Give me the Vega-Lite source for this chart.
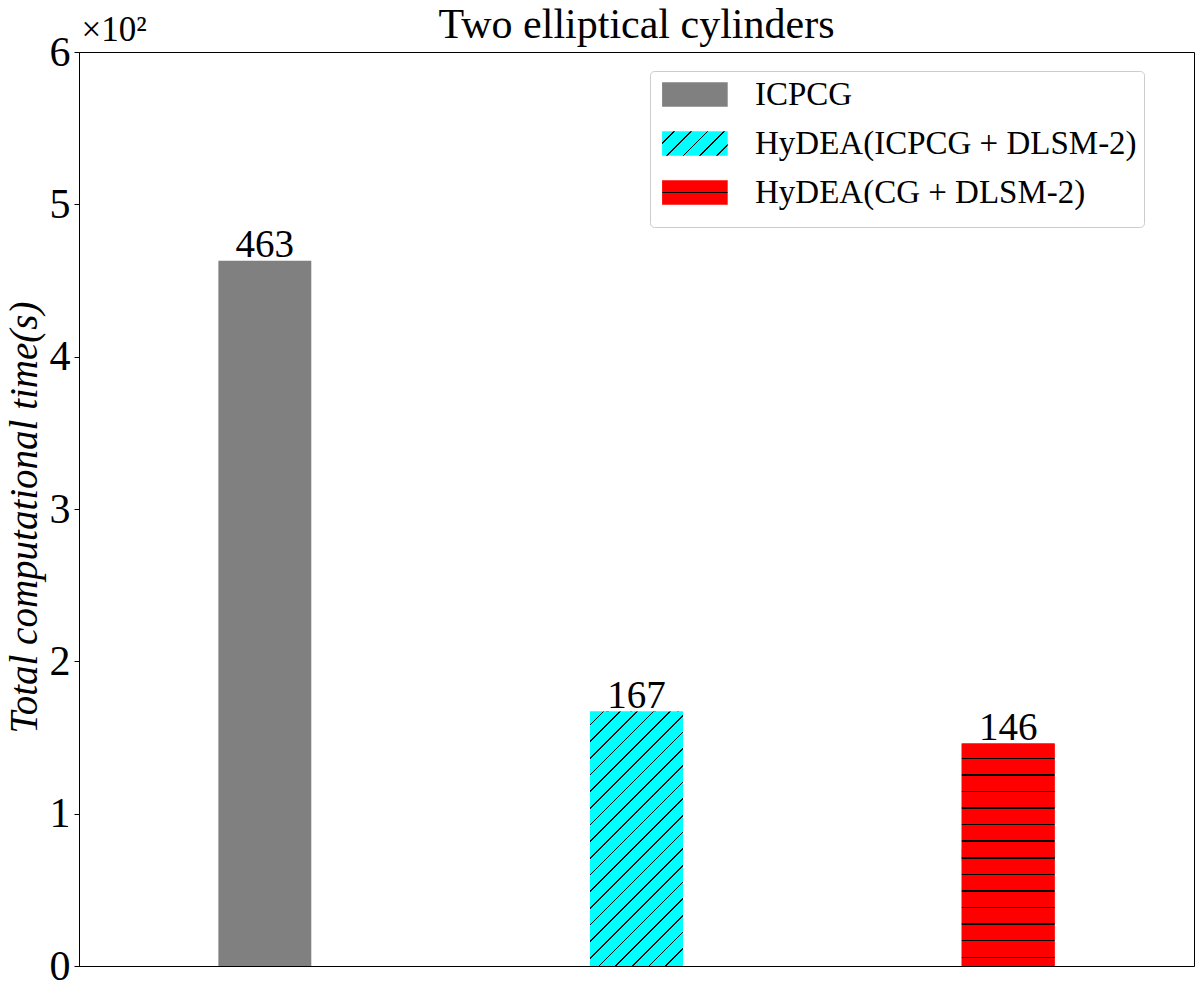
{
  "$schema": "https://vega.github.io/schema/vega-lite/v6.json",
  "width": 1115,
  "height": 914,
  "autosize": {"type": "none"},
  "padding": {"left": 79, "top": 52, "right": 6, "bottom": 34},
  "config": {
    "font": "Liberation Serif",
    "view": {"stroke": "black", "strokeWidth": 1}
  },
  "params": [
    {"name": "legCyan", "value": {"gradient": "linear", "x1": 0, "y1": 0, "x2": 1.2056, "y2": 0.4521, "stops": [
      {"offset": 0, "color": "#00ffff"},
      {"offset": 0.1275, "color": "#00ffff"}, {"offset": 0.1275, "color": "#000000"}, {"offset": 0.1453, "color": "#000000"}, {"offset": 0.1453, "color": "#00ffff"},
      {"offset": 0.3126, "color": "#00ffff"}, {"offset": 0.3126, "color": "#000000"}, {"offset": 0.3304, "color": "#000000"}, {"offset": 0.3304, "color": "#00ffff"},
      {"offset": 0.4978, "color": "#00ffff"}, {"offset": 0.4978, "color": "#000000"}, {"offset": 0.5156, "color": "#000000"}, {"offset": 0.5156, "color": "#00ffff"},
      {"offset": 0.6818, "color": "#00ffff"}, {"offset": 0.6818, "color": "#000000"}, {"offset": 0.6996, "color": "#000000"}, {"offset": 0.6996, "color": "#00ffff"},
      {"offset": 0.8669, "color": "#00ffff"}, {"offset": 0.8669, "color": "#000000"}, {"offset": 0.8847, "color": "#000000"}, {"offset": 0.8847, "color": "#00ffff"},
      {"offset": 1, "color": "#00ffff"}
    ]}},
    {"name": "legRed", "value": {"gradient": "linear", "x1": 0, "y1": 0, "x2": 0, "y2": 1, "stops": [
      {"offset": 0, "color": "#ff0000"},
      {"offset": 0.473, "color": "#ff0000"}, {"offset": 0.473, "color": "#000000"}, {"offset": 0.527, "color": "#000000"}, {"offset": 0.527, "color": "#ff0000"},
      {"offset": 1, "color": "#ff0000"}
    ]}}
  ],
  "title": {
    "text": "Two elliptical cylinders",
    "font": "Liberation Serif",
    "fontSize": 42,
    "fontWeight": "normal",
    "color": "black",
    "anchor": "middle",
    "offset": -35
  },
  "data": {
    "values": [
      {"method": "ICPCG", "time": 463},
      {"method": "HyDEA(ICPCG + DLSM-2)", "time": 167},
      {"method": "HyDEA(CG + DLSM-2)", "time": 146}
    ]
  },
  "encoding": {
    "x": {
      "field": "method",
      "type": "nominal",
      "sort": null,
      "scale": {"paddingInner": 0, "paddingOuter": 0},
      "axis": {
        "orient": "top",
        "labels": false,
        "ticks": false,
        "domain": false,
        "grid": false,
        "title": "×10²",
        "titleFont": "Liberation Serif",
        "titleAngle": 0,
        "titleAlign": "left",
        "titleAnchor": "start",
        "titleBaseline": "alphabetic",
        "titleX": 2,
        "titleY": -12,
        "titleFontSize": 35,
        "titleFontWeight": "normal",
        "titleColor": "black"
      }
    },
    "y": {
      "field": "time",
      "type": "quantitative",
      "scale": {"domain": [0, 600], "nice": false},
      "axis": {
        "values": [0, 100, 200, 300, 400, 500, 600],
        "labelExpr": "format(datum.value / 100, 'd')",
        "title": "Total computational time(s)",
        "titleFont": "Liberation Serif",
        "titleFontStyle": "italic",
        "titleFontWeight": "normal",
        "titleFontSize": 39,
        "titleColor": "black",
        "titlePadding": 5,
        "titleY": 465,
        "labelFont": "Liberation Serif",
        "labelFontSize": 42,
        "labelColor": "black",
        "labelPadding": 4,
        "tickSize": 5,
        "tickColor": "black",
        "domainColor": "black",
        "grid": false
      }
    }
  },
  "layer": [
    {
      "mark": {"type": "bar", "width": {"band": 0.25}},
      "encoding": {
        "color": {
          "field": "method",
          "type": "nominal",
          "sort": null,
          "scale": {
            "domain": ["ICPCG", "HyDEA(ICPCG + DLSM-2)", "HyDEA(CG + DLSM-2)"],
            "range": ["#808080", {"expr": "legCyan"}, {"expr": "legRed"}]
          },
          "legend": {
            "orient": "none",
            "legendX": 571,
            "legendY": 19,
            "title": " ",
            "titleOrient": "bottom",
            "titleFontSize": 10,
            "titlePadding": 0,
            "symbolType": "M-0.695,-0.75H3.305V0.75H-0.695Z",
            "symbolSize": 1076,
            "symbolStrokeWidth": 0,
            "labelFont": "Liberation Serif",
            "labelFontSize": 33,
            "labelColor": "black",
            "labelOffset": 65,
            "labelLimit": 600,
            "rowPadding": 15,
            "padding": 7,
            "strokeColor": "#cccccc",
            "fillColor": "white",
            "cornerRadius": 4
          }
        }
      }
    },
    {
      "transform": [{"filter": "datum.method == 'HyDEA(ICPCG + DLSM-2)'"}],
      "mark": {
        "type": "bar",
        "width": {"band": 0.25},
        "color": {"gradient": "linear", "x1": 0, "y1": 0, "x2": 0.4399, "y2": 1.2046, "stops": [
          {"offset": 0, "color": "#00ffff"},
          {"offset": 0.0360, "color": "#00ffff"}, {"offset": 0.0360, "color": "#000000"}, {"offset": 0.0406, "color": "#000000"}, {"offset": 0.0406, "color": "#00ffff"},
          {"offset": 0.0840, "color": "#00ffff"}, {"offset": 0.0840, "color": "#000000"}, {"offset": 0.0886, "color": "#000000"}, {"offset": 0.0886, "color": "#00ffff"},
          {"offset": 0.1320, "color": "#00ffff"}, {"offset": 0.1320, "color": "#000000"}, {"offset": 0.1366, "color": "#000000"}, {"offset": 0.1366, "color": "#00ffff"},
          {"offset": 0.1800, "color": "#00ffff"}, {"offset": 0.1800, "color": "#000000"}, {"offset": 0.1846, "color": "#000000"}, {"offset": 0.1846, "color": "#00ffff"},
          {"offset": 0.2280, "color": "#00ffff"}, {"offset": 0.2280, "color": "#000000"}, {"offset": 0.2326, "color": "#000000"}, {"offset": 0.2326, "color": "#00ffff"},
          {"offset": 0.2760, "color": "#00ffff"}, {"offset": 0.2760, "color": "#000000"}, {"offset": 0.2806, "color": "#000000"}, {"offset": 0.2806, "color": "#00ffff"},
          {"offset": 0.3240, "color": "#00ffff"}, {"offset": 0.3240, "color": "#000000"}, {"offset": 0.3286, "color": "#000000"}, {"offset": 0.3286, "color": "#00ffff"},
          {"offset": 0.3720, "color": "#00ffff"}, {"offset": 0.3720, "color": "#000000"}, {"offset": 0.3766, "color": "#000000"}, {"offset": 0.3766, "color": "#00ffff"},
          {"offset": 0.4200, "color": "#00ffff"}, {"offset": 0.4200, "color": "#000000"}, {"offset": 0.4246, "color": "#000000"}, {"offset": 0.4246, "color": "#00ffff"},
          {"offset": 0.4680, "color": "#00ffff"}, {"offset": 0.4680, "color": "#000000"}, {"offset": 0.4726, "color": "#000000"}, {"offset": 0.4726, "color": "#00ffff"},
          {"offset": 0.5160, "color": "#00ffff"}, {"offset": 0.5160, "color": "#000000"}, {"offset": 0.5206, "color": "#000000"}, {"offset": 0.5206, "color": "#00ffff"},
          {"offset": 0.5640, "color": "#00ffff"}, {"offset": 0.5640, "color": "#000000"}, {"offset": 0.5686, "color": "#000000"}, {"offset": 0.5686, "color": "#00ffff"},
          {"offset": 0.6120, "color": "#00ffff"}, {"offset": 0.6120, "color": "#000000"}, {"offset": 0.6166, "color": "#000000"}, {"offset": 0.6166, "color": "#00ffff"},
          {"offset": 0.6600, "color": "#00ffff"}, {"offset": 0.6600, "color": "#000000"}, {"offset": 0.6646, "color": "#000000"}, {"offset": 0.6646, "color": "#00ffff"},
          {"offset": 0.7080, "color": "#00ffff"}, {"offset": 0.7080, "color": "#000000"}, {"offset": 0.7126, "color": "#000000"}, {"offset": 0.7126, "color": "#00ffff"},
          {"offset": 0.7560, "color": "#00ffff"}, {"offset": 0.7560, "color": "#000000"}, {"offset": 0.7606, "color": "#000000"}, {"offset": 0.7606, "color": "#00ffff"},
          {"offset": 0.8040, "color": "#00ffff"}, {"offset": 0.8040, "color": "#000000"}, {"offset": 0.8086, "color": "#000000"}, {"offset": 0.8086, "color": "#00ffff"},
          {"offset": 0.8520, "color": "#00ffff"}, {"offset": 0.8520, "color": "#000000"}, {"offset": 0.8566, "color": "#000000"}, {"offset": 0.8566, "color": "#00ffff"},
          {"offset": 0.9000, "color": "#00ffff"}, {"offset": 0.9000, "color": "#000000"}, {"offset": 0.9046, "color": "#000000"}, {"offset": 0.9046, "color": "#00ffff"},
          {"offset": 0.9480, "color": "#00ffff"}, {"offset": 0.9480, "color": "#000000"}, {"offset": 0.9526, "color": "#000000"}, {"offset": 0.9526, "color": "#00ffff"},
          {"offset": 1, "color": "#00ffff"}
        ]}
      }
    },
    {
      "transform": [{"filter": "datum.method == 'HyDEA(CG + DLSM-2)'"}],
      "mark": {
        "type": "bar",
        "width": {"band": 0.25},
        "color": {"gradient": "linear", "x1": 0, "y1": 0, "x2": 0, "y2": 1, "stops": [
          {"offset": 0, "color": "#ff0000"},
          {"offset": 0.0627, "color": "#ff0000"}, {"offset": 0.0627, "color": "#000000"}, {"offset": 0.0695, "color": "#000000"}, {"offset": 0.0695, "color": "#ff0000"},
          {"offset": 0.1372, "color": "#ff0000"}, {"offset": 0.1372, "color": "#000000"}, {"offset": 0.1440, "color": "#000000"}, {"offset": 0.1440, "color": "#ff0000"},
          {"offset": 0.2118, "color": "#ff0000"}, {"offset": 0.2118, "color": "#000000"}, {"offset": 0.2186, "color": "#000000"}, {"offset": 0.2186, "color": "#ff0000"},
          {"offset": 0.2863, "color": "#ff0000"}, {"offset": 0.2863, "color": "#000000"}, {"offset": 0.2931, "color": "#000000"}, {"offset": 0.2931, "color": "#ff0000"},
          {"offset": 0.3609, "color": "#ff0000"}, {"offset": 0.3609, "color": "#000000"}, {"offset": 0.3677, "color": "#000000"}, {"offset": 0.3677, "color": "#ff0000"},
          {"offset": 0.4354, "color": "#ff0000"}, {"offset": 0.4354, "color": "#000000"}, {"offset": 0.4422, "color": "#000000"}, {"offset": 0.4422, "color": "#ff0000"},
          {"offset": 0.5100, "color": "#ff0000"}, {"offset": 0.5100, "color": "#000000"}, {"offset": 0.5168, "color": "#000000"}, {"offset": 0.5168, "color": "#ff0000"},
          {"offset": 0.5846, "color": "#ff0000"}, {"offset": 0.5846, "color": "#000000"}, {"offset": 0.5914, "color": "#000000"}, {"offset": 0.5914, "color": "#ff0000"},
          {"offset": 0.6591, "color": "#ff0000"}, {"offset": 0.6591, "color": "#000000"}, {"offset": 0.6659, "color": "#000000"}, {"offset": 0.6659, "color": "#ff0000"},
          {"offset": 0.7337, "color": "#ff0000"}, {"offset": 0.7337, "color": "#000000"}, {"offset": 0.7405, "color": "#000000"}, {"offset": 0.7405, "color": "#ff0000"},
          {"offset": 0.8082, "color": "#ff0000"}, {"offset": 0.8082, "color": "#000000"}, {"offset": 0.8150, "color": "#000000"}, {"offset": 0.8150, "color": "#ff0000"},
          {"offset": 0.8828, "color": "#ff0000"}, {"offset": 0.8828, "color": "#000000"}, {"offset": 0.8896, "color": "#000000"}, {"offset": 0.8896, "color": "#ff0000"},
          {"offset": 0.9573, "color": "#ff0000"}, {"offset": 0.9573, "color": "#000000"}, {"offset": 0.9641, "color": "#000000"}, {"offset": 0.9641, "color": "#ff0000"},
          {"offset": 1, "color": "#ff0000"}
        ]}
      }
    },
    {
      "mark": {"type": "text", "baseline": "alphabetic", "dy": -4, "fontSize": 39, "color": "black", "font": "Liberation Serif"},
      "encoding": {
        "text": {"field": "time", "type": "quantitative"}
      }
    }
  ]
}
